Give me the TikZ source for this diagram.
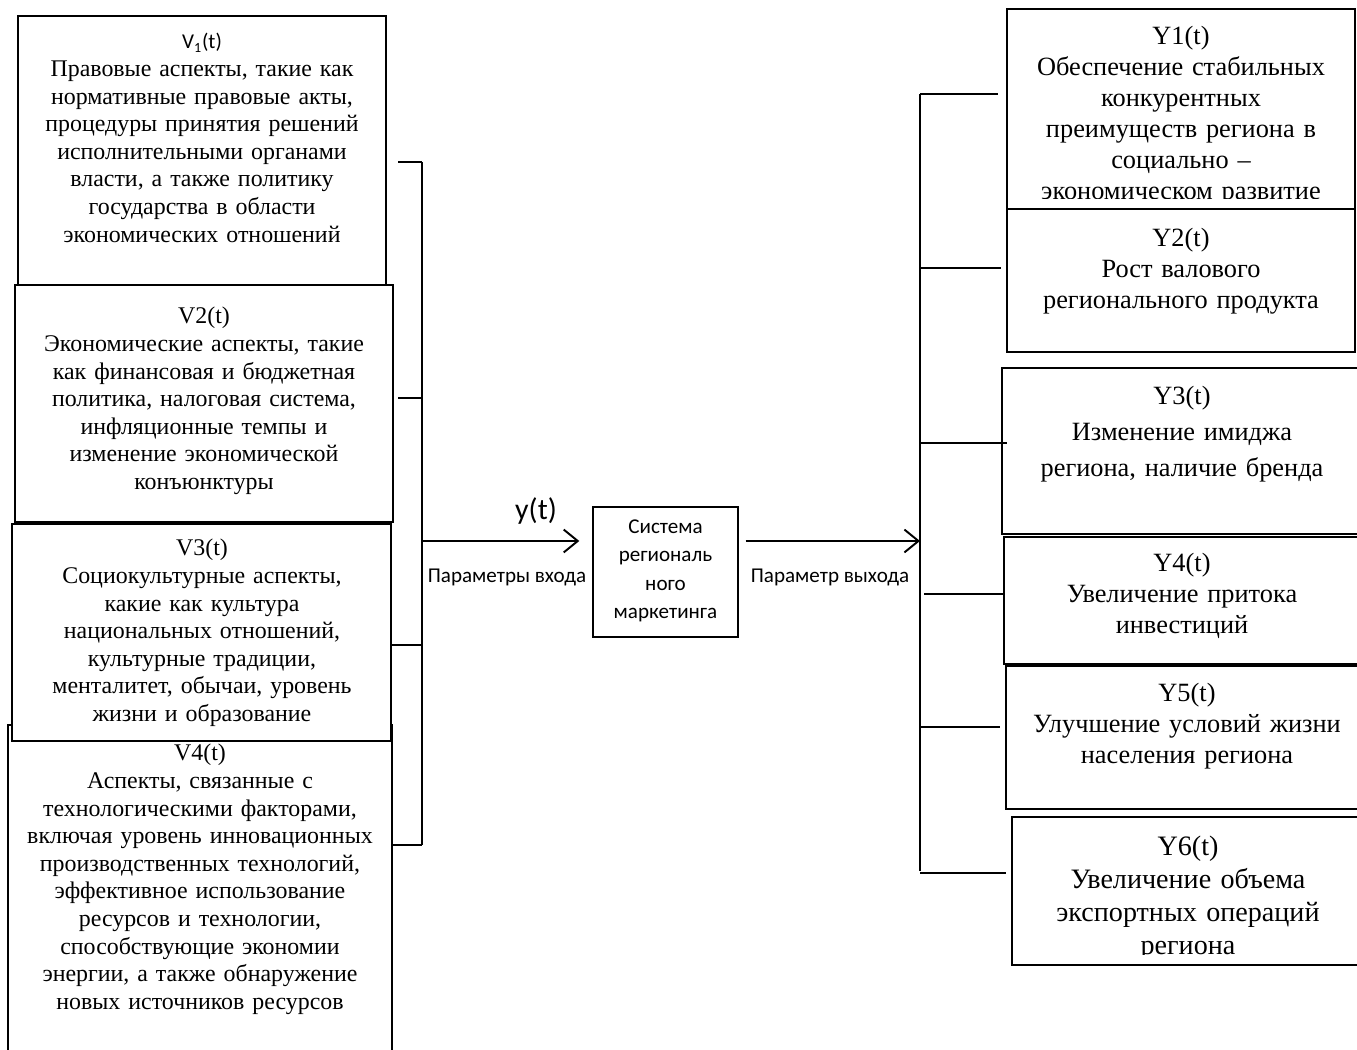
\documentclass[tikz,border=0pt]{standalone}
\usepackage{fontspec}
\setmainfont{Liberation Serif}
\newfontfamily\calib{Carlito}
\usetikzlibrary{arrows.meta,fit}

\begin{document}
\begin{tikzpicture}[x=0.02cm,y=-0.02cm,
        box/.style={draw,line width=0.8pt,fill=white,inner sep=0pt,fit={#1}},
        vtext/.style={anchor=base,align=center,inner sep=0pt,text width=7.6cm,
            font=\fontsize{13.6}{15.7}\selectfont},
        ytext/.style={anchor=base,align=center,inner sep=0pt,text width=7cm,
            font=\fontsize{15}{17.6}\selectfont},
        bus/.style={line width=1.1pt},
        flow/.style={line width=1.1pt,-{Straight Barb[length=8pt,width=13pt,line width=1.1pt]}},
        small/.style={inner sep=0pt,font=\calib\fontsize{12}{16.2}\selectfont}]
        \useasboundingbox (0,0) rectangle (1357,1050);
        \clip (0,0) rectangle (1357,1050);

        % входные параметры
        \node[box={(18,16) (386,285)}] (v1) {};
        \node[vtext] (v1t) at (202,49) {{\calib\fontsize{12}{14}\selectfont V\textsubscript{1}(t)}\\
            Правовые аспекты, такие как\\ нормативные правовые акты,\\ процедуры принятия решений\\
            исполнительными органами\\ власти, а также политику\\ государства в области\\
            экономических отношений};
        \node[box={(15,285) (393,522)}] (v2) {};
        \node[vtext] (v2t) at (204,324) {V2(t)\\ Экономические аспекты, такие\\ как финансовая и бюджетная\\
            политика, налоговая система,\\ инфляционные темпы и\\ изменение экономической\\ конъюнктуры};
        \node[box={(8,725) (392,1070)}] (v4) {};
        \node[vtext] (v4t) at (200,761) {V4(t)\\ Аспекты, связанные с\\ технологическими факторами,\\
            включая уровень инновационных\\ производственных технологий,\\ эффективное использование\\
            ресурсов и технологии,\\ способствующие экономии\\ энергии, а также обнаружение\\
            новых источников ресурсов};
        \node[box={(12,524) (391,741)}] (v3) {};
        \node[vtext] (v3t) at (202,556) {V3(t)\\ Социокультурные аспекты,\\ какие как культура\\
            национальных отношений,\\ культурные традиции,\\ менталитет, обычаи, уровень\\
            жизни и образование};

        \coordinate (inbus top) at (422,162);
        \coordinate (inbus bot) at (422,845);
        \draw[bus] (inbus top) -- (inbus bot);
        \foreach \i/\x/\y in {1/398/162,2/398/398,3/392/645,4/393/845} {
            \coordinate (vt\i) at (\x,\y);
            \draw[bus] (vt\i) -- (vt\i -| inbus top);
        }

        % система
        \node[box={(593,507) (738,637)}] (sys) {};
        \node[small,align=center] (syst) at (665.5,571) {Система\\ региональ\\ ного\\ маркетинга};
        \coordinate (in arrow) at (422,541);
        \draw[flow,shorten >=0.26cm] (in arrow) -- (in arrow -| sys.west);
        \node[inner sep=0pt,font=\calib\fontsize{17}{20}\selectfont] (yt) at (536,511) {y(t)};
        \node[small] (inlab) at (507,577) {Параметры входа};

        \coordinate (outbus top) at (920,94);
        \coordinate (outbus bot) at (920,871);
        \draw[flow,shorten <=0.14cm] (in arrow -| sys.east) -- (in arrow -| outbus top);
        \node[small] (outlab) at (830,577) {Параметр выхода};

        % выходные параметры
        \node[box={(1007,9) (1355,209)}] (y1) {};
        \begin{scope}
            \clip (1007,9) rectangle (1355,199);
            \node[ytext] (y1t) at (1181,45) {Y1(t)\\ Обеспечение стабильных\\ конкурентных\\
                преимуществ региона в\\ социально –\\ экономическом развитие};
        \end{scope}
        \node[box={(1007,209) (1355,352)}] (y2) {};
        \node[ytext] (y2t) at (1181,247) {Y2(t)\\ Рост валового\\ регионального продукта};
        \node[box={(1002,368) (1380,534)}] (y3) {};
        \node[ytext,font=\fontsize{15}{20.4}\selectfont] (y3t) at (1182,405) {Y3(t)\\ Изменение имиджа\\
            региона, наличие бренда};
        \node[box={(1004,537) (1380,664)}] (y4) {};
        \node[ytext] (y4t) at (1182,572) {Y4(t)\\ Увеличение притока\\ инвестиций};
        \node[box={(1006,666) (1380,809)}] (y5) {};
        \node[ytext] (y5t) at (1187,702) {Y5(t)\\ Улучшение условий жизни\\ населения региона};
        \node[box={(1012,817) (1380,965)}] (y6) {};
        \begin{scope}
            \clip (1012,817) rectangle (1380,955);
            \node[ytext,font=\fontsize{16}{18.7}\selectfont] (y6t) at (1188,856) {Y6(t)\\
                Увеличение объема\\ экспортных операций\\ региона};
        \end{scope}

        \draw[bus] (outbus top) -- (outbus bot);
        \foreach \i/\x/\y/\e in {1/920/94/998,2/920/268/1001,3/920/443/1007,4/924/594/1004,5/920/727/1000,6/920/873/1006} {
            \coordinate (yt\i) at (\x,\y);
            \coordinate (ye\i) at (\e,\y);
            \draw[bus] (yt\i) -- (ye\i);
        }
    \end{tikzpicture}
\end{document}
